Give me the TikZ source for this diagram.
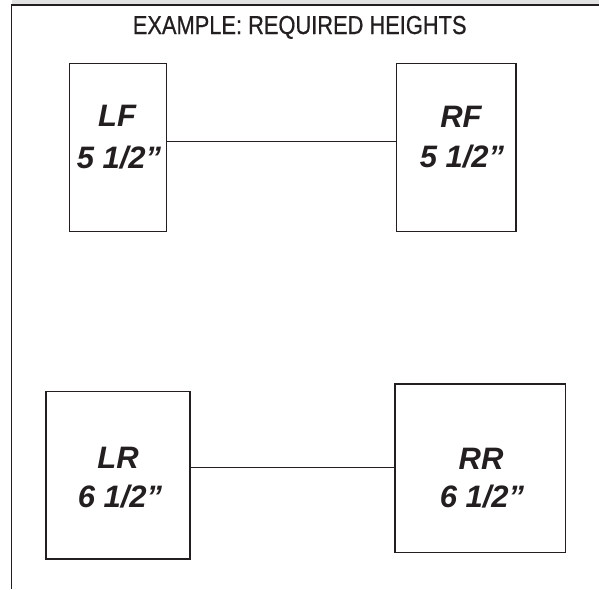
\documentclass[tikz,border=0pt]{standalone}
\usepackage{fontspec}
\setmainfont{Liberation Sans}
\newfontfamily\titlefont[FakeStretch=0.84,FakeBold=0.6]{Liberation Sans}
\definecolor{ink}{HTML}{231F20}
\definecolor{band}{HTML}{E2E2E2}
\begin{document}
\begin{tikzpicture}[x=1pt,y=-1pt,
  frame/.style={draw=ink,line width=1.6pt},
  wheelbox/.style={draw=ink,line width=1.3pt,inner sep=0pt,rectangle},
  axle/.style={draw=ink,line width=1pt},
  wheeltext/.style={text=ink,inner sep=0pt,anchor=base,
    font=\fontsize{31}{36}\selectfont\bfseries\itshape},
  heading/.style={text=ink,inner sep=0pt,anchor=base,
    font=\titlefont\fontsize{26}{30}\selectfont}]
\useasboundingbox (0,0) rectangle (599,589);
\fill[white] (0,0) rectangle (599,589);
% shaded strip and page frame
\fill[band] (11.5,0) rectangle (599,4.4);
\coordinate (ftl) at (11.5,5);
\coordinate (ftr) at (599,5);
\coordinate (fbl) at (11.5,589);
\draw[frame] (ftr) -- (ftl) -- (fbl);
% heading
\node[heading] (title) at (299.7,34) {EXAMPLE: REQUIRED HEIGHTS};
% wheel boxes
\node[wheelbox,minimum width=97.4pt,minimum height=168.4pt] (lf) at (118,147.5) {};
\node[wheelbox,minimum width=119.3pt,minimum height=168.4pt] (rf) at (456.3,147.5) {};
\node[wheelbox,minimum width=144pt,minimum height=167.3pt] (lr) at (118,475.3) {};
\node[wheelbox,minimum width=170.7pt,minimum height=168.3pt] (rr) at (480.3,468.2) {};
% wheel labels
\node[wheeltext] (lfname) at (117,126) {LF};
\node[wheeltext] (lfheight) at (119,168) {5 1/2”};
\node[wheeltext] (rfname) at (461,127) {RF};
\node[wheeltext] (rfheight) at (462,167) {5 1/2”};
\node[wheeltext] (lrname) at (118,468) {LR};
\node[wheeltext] (lrheight) at (120,507) {6 1/2”};
\node[wheeltext] (rrname) at (481,469) {RR};
\node[wheeltext] (rrheight) at (482,507) {6 1/2”};
% axles
\draw[axle] (lf.east |- 0,141.7) -- (rf.west |- 0,141.7);
\draw[axle] (lr.east |- 0,467.5) -- (rr.west |- 0,467.5);
\end{tikzpicture}
\end{document}
